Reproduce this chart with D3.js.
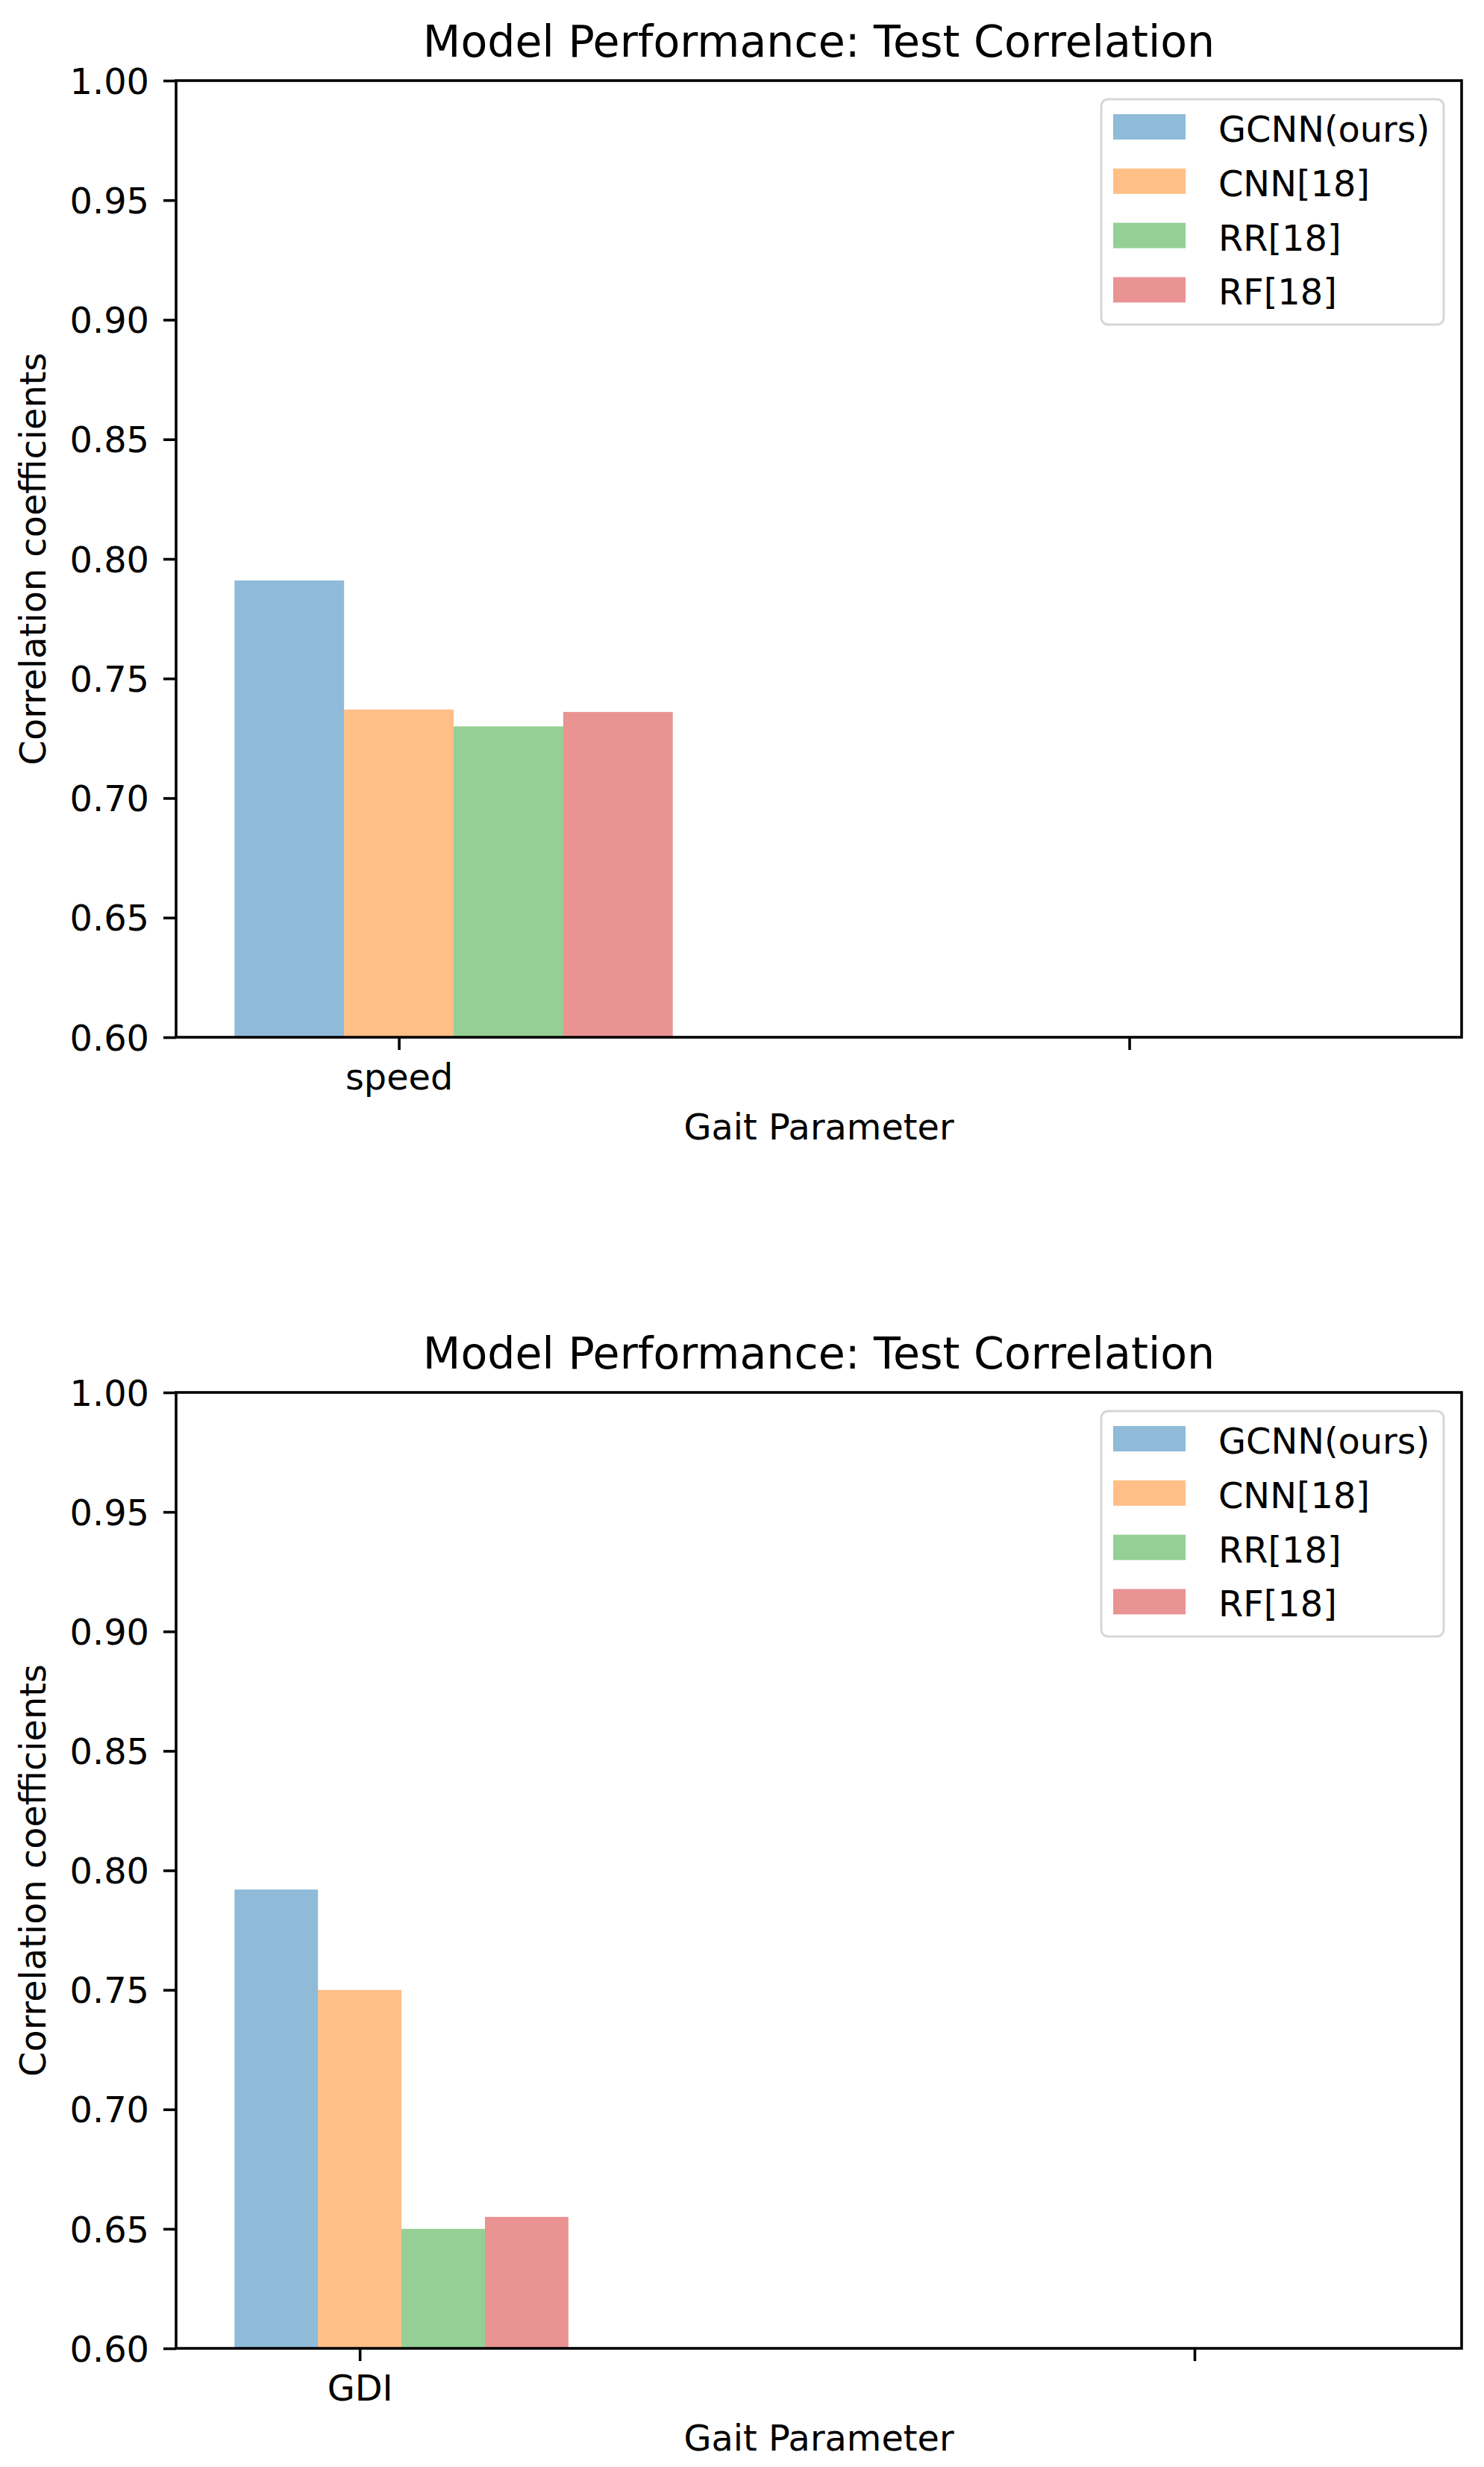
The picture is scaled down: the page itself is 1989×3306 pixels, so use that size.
<!DOCTYPE html>
<html>
<head>
<meta charset="utf-8">
<script src="https://cdn.jsdelivr.net/npm/d3@7"></script>
<style>
  html, body { margin: 0; padding: 0; background: #ffffff; }
  svg { display: block; }
  text { font-family: "DejaVu Sans", sans-serif; fill: #000; }
</style>
</head>
<body>
<svg id="chart" width="1989" height="3306"></svg>
<script>
// ---------------- data ----------------
const seriesNames = ["GCNN(ours)", "CNN[18]", "RR[18]", "RF[18]"];
const seriesColors = ["#1f77b4", "#ff7f0e", "#2ca02c", "#d62728"];
const seriesOffsets = [-1, 0, 1, 2];          // bar slot relative to the category tick

const categoriesTop = ["speed", ""];
const speedValues = [0.791, 0.737, 0.730, 0.736];   // one value per series, category "speed"
const barWidthTop = 0.15;

const categoriesBottom = ["GDI", ""];
const gdiValues = [0.792, 0.750, 0.650, 0.655];     // one value per series, category "GDI"
const barWidthBottom = 0.10;

const yTickValues = [0.60, 0.65, 0.70, 0.75, 0.80, 0.85, 0.90, 0.95, 1.00];
const yDomain = [0.60, 1.00];

const titleText = "Model Performance: Test Correlation";
const xLabelText = "Gait Parameter";
const yLabelText = "Correlation coefficients";

// ---------------- drawing ----------------
const svg = d3.select("#chart");
svg.append("rect").attr("width", 1989).attr("height", 3306).attr("fill", "#fff");

const FS = 47.8;
const FS_TITLE = 58.6;

function drawPanel(opt) {
  const { left, right, top, bottom, categories, values, barWidth } = opt;
  const g = svg.append("g");

  // x extent from bar slots of every category, with 5% margins
  const lo = 0 + d3.min(seriesOffsets) * barWidth - barWidth / 2;
  const hi = (categories.length - 1) + d3.max(seriesOffsets) * barWidth + barWidth / 2;
  const m = (hi - lo) * 0.05;
  const x = d3.scaleLinear().domain([lo - m, hi + m]).range([left, right]);
  const y = d3.scaleLinear().domain(yDomain).range([bottom, top]).clamp(true);

  // bars (start at 0 like matplotlib, clipped by the axes)
  const barData = values.map((v, i) => ({ v, i }));
  g.append("g").selectAll("rect").data(barData).join("rect")
    .attr("x", d => x(0 + seriesOffsets[d.i] * barWidth - barWidth / 2))
    .attr("width", d => x(barWidth) - x(0))
    .attr("y", d => y(d.v))
    .attr("height", d => y(0) - y(d.v))
    .attr("fill", d => seriesColors[d.i])
    .attr("fill-opacity", 0.5);

  // y axis
  const yAxis = g.append("g").attr("transform", `translate(${left},0)`)
    .call(d3.axisLeft(y).tickValues(yTickValues).tickFormat(d3.format(".2f"))
      .tickSize(17).tickPadding(19));
  yAxis.select(".domain").remove();
  yAxis.selectAll(".tick line").attr("stroke", "#000").attr("stroke-width", 3.6);
  yAxis.selectAll(".tick text").attr("font-size", FS).attr("font-family", "DejaVu Sans").attr("dy", "0.36em");

  // x axis
  const xAxis = g.append("g").attr("transform", `translate(0,${bottom})`)
    .call(d3.axisBottom(x).tickValues(d3.range(categories.length))
      .tickFormat(i => categories[i]).tickSize(17).tickPadding(19));
  xAxis.select(".domain").remove();
  xAxis.selectAll(".tick line").attr("stroke", "#000").attr("stroke-width", 3.6);
  xAxis.selectAll(".tick text").attr("font-size", FS).attr("font-family", "DejaVu Sans");

  // spines
  g.append("rect")
    .attr("x", left).attr("y", top)
    .attr("width", right - left).attr("height", bottom - top)
    .attr("fill", "none").attr("stroke", "#000").attr("stroke-width", 3.6);

  // title
  g.append("text")
    .attr("x", (left + right) / 2).attr("y", top - 32)
    .attr("text-anchor", "middle").attr("font-size", FS_TITLE)
    .text(titleText);

  // x label
  g.append("text")
    .attr("x", (left + right) / 2).attr("y", bottom + 137)
    .attr("text-anchor", "middle").attr("font-size", FS)
    .text(xLabelText);

  // y label
  g.append("text")
    .attr("transform", `translate(61,${(top + bottom) / 2}) rotate(-90)`)
    .attr("text-anchor", "middle").attr("font-size", FS)
    .text(yLabelText);

  // legend
  const lgRight = right - 24, lgLeft = lgRight - 459;
  const lgTop = top + 25, lgH = 302;
  const lg = g.append("g");
  lg.append("rect")
    .attr("x", lgLeft).attr("y", lgTop).attr("width", lgRight - lgLeft).attr("height", lgH)
    .attr("rx", 9).attr("ry", 9)
    .attr("fill", "#fff").attr("fill-opacity", 0.8)
    .attr("stroke", "#cccccc").attr("stroke-opacity", 0.8).attr("stroke-width", 3);
  const items = lg.selectAll("g.item").data(seriesNames).join("g").attr("class", "item")
    .attr("transform", (d, i) => `translate(${lgLeft + 16},${lgTop + 20 + i * 72.8})`);
  items.append("rect").attr("width", 97).attr("height", 34)
    .attr("fill", (d, i) => seriesColors[i]).attr("fill-opacity", 0.5);
  items.append("text").attr("x", 141).attr("y", 37).attr("font-size", FS).text(d => d);
}

drawPanel({ left: 236, right: 1959, top: 108, bottom: 1390,
  categories: categoriesTop, values: speedValues, barWidth: barWidthTop });
drawPanel({ left: 236, right: 1959, top: 1866, bottom: 3147,
  categories: categoriesBottom, values: gdiValues, barWidth: barWidthBottom });
</script>
</body>
</html>
